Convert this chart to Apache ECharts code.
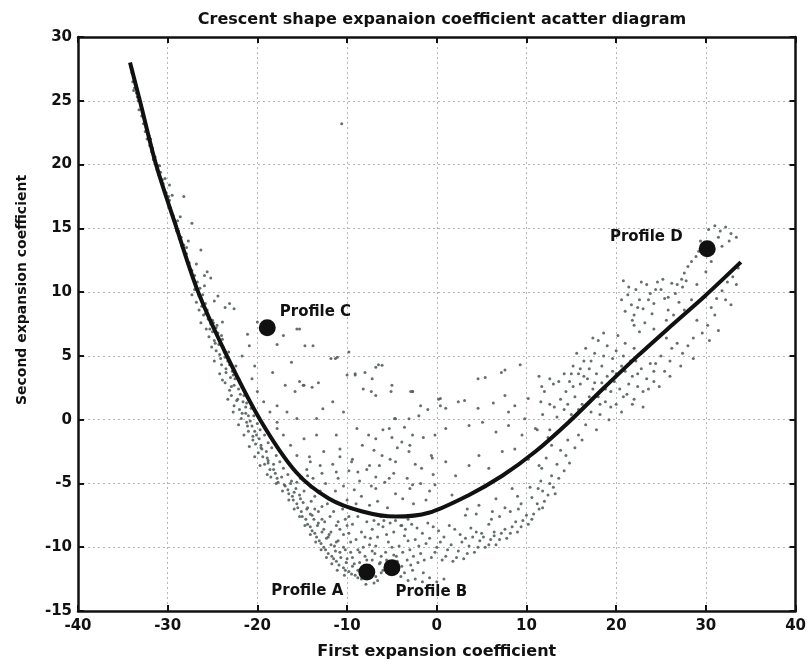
<!DOCTYPE html>
<html>
<head>
<meta charset="utf-8">
<script src="https://cdn.jsdelivr.net/npm/echarts@6/dist/echarts.min.js"></script>
<style>html,body{margin:0;padding:0;background:#fff}#c{width:809px;height:670px}</style>
</head>
<body>
<div id="c"></div>
<script>
// ---- data ----
var xTicks = [-40, -30, -20, -10, 0, 10, 20, 30, 40];
var yTicks = [-15, -10, -5, 0, 5, 10, 15, 20, 25, 30];

var curvePts = [[-34.2,28.0],[-33.1,25.0],[-31.3,20.0],[-29.0,15.0],[-26.6,10.0],[-23.4,5.0],[-19.7,0.0],[-15.7,-4.1],[-12.0,-6.2],[-8.3,-7.2],[-4.6,-7.6],[-0.9,-7.3],[3.6,-5.9],[7.3,-4.4],[11.0,-2.5],[14.7,-0.2],[18.5,2.4],[22.4,5.0],[26.2,7.4],[29.9,9.7],[33.9,12.35]];

var profileNames = ['Profile A', 'Profile B', 'Profile C', 'Profile D'];
var profileX = [-7.8, -5.0, -18.9, 30.15];
var profileY = [-11.95, -11.6, 7.2, 13.4];

var armPts = [[-34.0,27.2],[-33.9,26.5],[-33.8,25.8],[-33.7,26.0],[-33.5,25.6],[-33.3,25.0],[-33.2,24.3],[-32.9,23.8],[-32.8,24.2],[-32.7,23.2],[-32.5,22.6],[-32.3,22.0],[-32.0,21.5],[-31.9,22.0],[-31.8,21.0],[-31.6,20.4],[-31.2,19.6],[-31.0,19.2],[-30.9,19.9],[-30.7,18.6],[-30.6,18.8],[-30.4,18.0],[-30.1,17.4],[-29.9,16.8],[-29.8,18.4],[-29.8,17.2],[-29.6,16.2],[-29.3,15.6],[-29.0,14.8],[-28.9,15.6],[-28.7,14.2],[-28.4,13.6],[-28.2,17.5],[-28.1,13.0],[-27.9,13.5],[-27.8,12.4],[-27.5,11.8],[-27.3,15.4],[-27.2,11.2],[-26.9,10.6],[-26.6,10.0],[-26.3,13.3],[-26.3,9.6],[-26.0,9.0],[-25.9,10.5],[-25.6,11.6],[-25.2,11.1],[-24.8,9.3],[-24.4,9.7],[-23.6,8.8],[-10.6,23.2],
  [-34.1,27.6],[-33.6,26.3],[-33.4,25.3],[-33.0,24.6],[-32.6,23.6],[-32.4,22.9],[-32.1,22.3],[-31.7,21.3],[-31.4,20.6],[-31.1,19.9],[-30.8,19.4],[-30.5,18.5],[-30.2,17.8],[-29.9,17.5],[-29.7,16.6],[-29.4,16.0],[-29.1,15.4],[-28.8,14.8],[-28.5,14.3],[-28.2,13.7],[-27.9,13.0],[-27.6,12.3],[-27.3,11.7],[-27.0,11.3],[-26.7,10.8],[-26.4,10.3],[-26.1,9.8],[-30.3,18.9],[-29.5,17.6],[-28.6,15.9],[-27.7,14.0],[-26.8,12.2],[-25.9,11.3]];

var leftBandPts = [[-27.0,10.2],[-26.5,9.7],[-27.3,9.8],[-26.8,9.2],[-26.2,8.9],[-25.8,9.1],[-26.5,8.6],[-26.0,8.2],[-25.5,7.9],[-26.3,7.6],[-25.2,7.5],[-25.7,7.1],[-25.0,6.9],[-24.6,7.2],[-25.4,6.5],[-24.8,6.2],[-24.3,5.9],[-25.1,5.7],[-23.9,6.3],[-24.6,5.4],[-24.2,5.1],[-23.6,4.9],[-24.8,4.6],[-23.2,5.3],[-24.0,4.3],[-23.5,4.0],[-22.8,3.8],[-24.2,3.6],[-23.0,3.3],[-22.4,4.2],[-23.6,2.9],[-22.6,2.7],[-22.0,3.1],[-23.1,2.3],[-21.7,2.5],[-22.9,1.9],[-22.2,1.6],[-21.5,1.9],[-22.6,1.1],[-21.2,1.3],[-22.0,0.8],[-21.3,0.5],[-20.7,0.9],[-21.8,0.1],[-20.4,0.3],[-21.2,-0.2],[-20.6,-0.5],[-20.0,-0.3],[-21.0,-0.9],[-19.7,-0.8],[-20.5,-1.3],[-19.8,-1.5],[-19.2,-1.2],[-20.2,-1.9],[-18.8,-1.8],[-19.6,-2.2],[-19.0,-2.5],[-18.4,-2.2],[-19.4,-2.9],[-17.9,-2.8],[-18.8,-3.2],[-18.2,-3.5],[-17.5,-3.3],[-18.6,-3.9],[-17.1,-3.8],[-18.0,-4.2],[-17.3,-4.5],[-16.6,-4.3],[-17.7,-4.9],[-16.2,-4.8],[-23.9,3.1],[-23.3,1.6],[-22.7,0.6],[-22.1,-0.4],[-21.5,-1.2],[-20.9,-2.1],[-20.3,-2.9],[-19.7,-3.6],[-18.9,-4.3],
  [-26.2,9.4],[-25.6,8.6],[-25.0,7.8],[-24.4,6.8],[-23.8,5.7],[-23.3,4.6],[-22.7,3.5],[-22.1,2.4],[-21.6,1.4],[-21.0,0.3],[-20.3,-0.9],[-19.6,-2.0],[-18.9,-3.0],[-18.2,-3.9],[-25.3,7.1],[-24.7,6.0],[-24.1,4.8],[-23.5,3.7],[-22.9,2.6],[-22.3,1.5],[-21.7,0.5],[-21.1,-0.5],[-20.5,-1.6],[-19.9,-2.6],[-19.2,-3.5],[-18.5,-4.5],[-24.9,7.6],[-24.0,6.6],[-23.1,4.3],[-22.5,3.2],[-21.9,2.0],[-21.3,1.0],[-20.8,-0.1],[-20.1,-1.2],[-19.5,-2.3],[-18.8,-3.4],[-17.8,-4.6],[-25.8,8.3],[-24.5,7.4],[-23.7,5.3]];

var lowerBandPts = [[-16.9,-5.2],[-16.3,-5.0],[-15.7,-5.4],[-16.5,-5.8],[-15.3,-5.9],[-16.0,-6.3],[-14.9,-6.5],[-15.5,-6.9],[-14.5,-7.0],[-14.1,-7.4],[-15.0,-7.6],[-13.7,-7.8],[-14.4,-8.2],[-13.3,-8.3],[-13.9,-8.7],[-12.8,-8.8],[-13.4,-9.2],[-12.3,-9.3],[-12.9,-9.7],[-11.8,-9.8],[-12.4,-10.2],[-11.3,-10.3],[-11.7,-10.7],[-10.7,-10.8],[-11.2,-11.1],[-10.1,-11.2],[-10.4,-11.6],[-9.4,-11.5],[-9.8,-11.9],[-8.8,-11.8],[-9.1,-12.2],[-8.1,-12.1],[-8.4,-12.5],[-7.4,-12.4],[-6.8,-12.3],[-6.2,-12.0],[-6.6,-12.6],[-17.9,-5.0],[-17.2,-5.6],[-16.5,-6.3],[-15.9,-7.0],[-15.3,-7.6],[-14.7,-8.3],[-14.1,-9.0],[-13.5,-9.6],[-12.9,-10.2],[-12.3,-10.8],[-11.7,-11.3],[-11.1,-11.8],[-10.3,-12.2],[-15.6,-4.9],[-14.8,-5.6],[-14.0,-6.4],[-13.2,-7.2],[-12.5,-8.0],[-11.8,-8.8],[-11.0,-9.5],[-10.2,-10.2],[-9.4,-10.8],[-8.6,-11.2],[-7.6,-11.6],[-13.6,-6.0],[-12.8,-6.8],[-11.9,-7.6],[-11.2,-8.3],[-10.4,-9.0],[-9.6,-9.6],[-8.8,-10.2],[-8.0,-10.7],[-7.2,-11.0],[-6.4,-11.3],[-5.6,-11.0],[-4.8,-10.6],[-15.2,-4.6],[-14.0,-5.3],[-13.0,-5.6],[-12.2,-6.6],[-11.5,-7.2],[-10.5,-7.0],[-9.8,-7.6],[-13.6,-7.0],[-12.8,-7.8],[-11.0,-8.0],[-10.0,-8.3],[-12.0,-9.0],[-11.2,-9.6],[-10.4,-10.0],[-9.6,-10.4],
  [-16.6,-5.5],[-16.1,-6.0],[-15.6,-6.6],[-15.1,-7.2],[-14.6,-7.8],[-14.1,-8.4],[-13.6,-8.9],[-13.1,-9.5],[-12.6,-10.0],[-12.1,-10.5],[-11.5,-10.9],[-10.9,-11.4],[-10.2,-11.8],[-9.5,-12.1],[-8.8,-12.4],[-17.0,-5.1],[-15.9,-5.7],[-15.2,-6.2],[-14.4,-6.9],[-13.9,-7.5],[-13.2,-8.1],[-12.6,-8.6],[-12.1,-9.2],[-11.4,-9.9],[-10.8,-10.4],[-10.0,-10.9],[-9.2,-11.3],[-8.3,-11.6],[-7.9,-12.9],[-7.0,-12.8]];

var innerPts = [[-23.1,9.1],[-22.6,8.7],[-23.9,7.65],[-21.1,6.7],[-20.0,7.65],[-17.1,6.6],[-15.6,7.1],[-13.8,5.8],[-17.8,5.9],[-20.9,5.8],[-21.7,5.0],[-20.3,4.2],[-20.6,3.2],[-18.3,3.7],[-16.9,2.7],[-15.8,2.2],[-14.8,2.7],[-13.9,2.55],[-13.2,2.9],[-16.2,4.5],[-11.8,4.8],[-11.1,4.9],[-10.0,3.5],[-9.1,3.6],[-8.2,2.4],[-20.0,2.2],[-19.3,1.4],[-17.8,1.1],[-18.6,0.6],[-16.7,0.6],[-17.8,-0.2],[-15.6,0.1],[-13.4,0.1],[-12.7,0.85],[-11.6,1.4],[-10.4,0.6],[-8.9,-0.7],[-11.2,-1.2],[-13.4,-1.2],[-14.8,-1.5],[-16.3,-2.0],[-15.6,-2.8],[-14.1,-3.3],[-12.6,-2.5],[-10.8,-2.3],[-9.4,-3.1],[-8.3,-2.0],[-7.5,-3.6],[-14.4,-4.4],[-11.2,-4.1],[-8.8,-4.1],[-17.8,-0.7],[-17.1,-1.2],[-15.3,7.1],[-14.7,5.8],[-11.3,4.8],[-9.8,5.3],[-9.1,3.5],[-8.0,3.7],[-6.5,4.3],[-7.3,2.2],[-5.1,2.2],[-2.9,2.2],[-1.8,1.1],[0.4,1.1],[-4.7,0.1],[-14.9,2.7],[-15.3,3.0],[-14.5,-3.9],[-13.8,-4.6],[-13.0,-3.6],[-12.4,-5.0],[-12.8,-4.2],[-14.2,-2.9],[-11.6,-3.5],[-11.0,-4.6],[-10.4,-5.2],[-9.8,-4.0],[-9.2,-5.5],[-8.6,-4.8],[-10.8,-2.9],[-9.5,-3.3],[-8.4,-6.0],[-11.3,-5.6],[-10.0,-6.3],[-9.0,-6.6],[-7.6,-1.2],[-7.0,-2.4],[-6.4,-3.6],[-5.8,-4.9],[-5.2,-3.1],[-4.6,-5.8],[-7.3,-5.2],[-6.6,-6.4],[-5.5,-6.9],[-4.4,-2.2],[-6.0,-0.8],[-7.8,-3.9],[-4.8,-4.2],[-5.0,-1.4],[-6.8,-4.5],[-7.5,-6.7],[-3.6,-0.6],[-3.0,-2.0],[-2.4,-3.5],[-1.8,-5.0],[-1.2,-6.3],[-0.6,-2.8],[-3.3,-4.6],[-2.6,-6.6],[-1.5,-1.4],[-0.4,-4.3],[-3.8,-6.2],[-2.0,0.3],[-0.8,-5.6],[-3.0,-5.4],[-1.0,0.8]];

var centrePts = [[-6.8,4.1],[-6.1,4.27],[-7.2,3.2],[-5.0,2.7],[-2.7,2.2],[5.4,3.3],[7.6,3.9],[9.3,4.3],[12.6,3.2],[11.7,2.6],[-6.8,1.9],[0.4,1.65],[1.0,0.9],[3.1,1.5],[4.6,0.9],[6.3,1.3],[7.6,1.9],[8.7,1.1],[10.2,1.65],[11.6,1.4],[13.1,1.0],[-4.6,0.07],[-3.1,0.07],[-5.3,-0.7],[-2.7,-1.2],[-6.8,-1.5],[-3.9,-1.75],[-0.2,-1.2],[1.0,-0.7],[3.6,-0.45],[5.1,-0.2],[6.6,-0.96],[8.0,-0.45],[9.5,-1.2],[11.0,-0.7],[12.5,-1.5],[8.0,0.6],[9.8,0.07],[-6.1,-2.8],[-4.6,-3.3],[-3.1,-2.5],[-1.7,-3.8],[-0.5,-3.0],[1.0,-3.3],[2.1,-4.4],[3.6,-3.6],[4.7,-2.8],[5.8,-3.8],[7.3,-2.5],[8.7,-2.3],[10.2,-3.1],[11.7,-3.8],[12.8,-4.4],[11.3,-5.4],[-5.3,-4.6],[-2.7,-5.1],[-6.8,-5.4],[-0.2,-5.1],[1.7,-5.9],[4.7,-6.7],[6.6,-6.2],[8.4,-5.4],[3.2,-7.5],[6.1,-7.8],[9.1,-7.0],[-3.9,-8.3],[-2.7,2.2],[0.2,1.6],[2.4,1.4],[4.6,3.2],[7.2,3.7]];

var bottomPts = [[-7.8,-8.0],[-7.2,-8.6],[-6.6,-9.2],[-6.0,-8.4],[-5.4,-9.6],[-4.8,-8.8],[-4.2,-9.9],[-3.6,-9.1],[-3.0,-10.2],[-2.4,-9.4],[-1.8,-10.5],[-1.2,-9.7],[-0.6,-10.8],[0.0,-10.0],[0.6,-11.0],[1.2,-10.2],[1.8,-11.1],[2.4,-10.3],[3.0,-10.9],[3.6,-9.9],[4.2,-10.4],[4.8,-9.5],[-7.5,-9.8],[-6.9,-10.5],[-6.3,-11.2],[-5.7,-10.4],[-5.1,-11.3],[-4.5,-10.7],[-3.9,-11.5],[-3.3,-11.0],[-2.7,-11.8],[-2.1,-11.2],[-1.5,-12.0],[-7.0,-7.9],[-6.2,-7.6],[-5.2,-8.1],[-4.0,-8.3],[-3.2,-7.8],[-2.2,-8.5],[-1.0,-8.1],[0.2,-8.7],[1.4,-8.3],[2.6,-9.0],[3.8,-8.5],[5.0,-8.9],[-8.4,-8.8],[-9.0,-9.4],[-8.2,-10.0],[-7.8,-11.0],[-9.4,-8.2],[-10.2,-7.8],[-10.8,-8.6],[-9.8,-8.9],[-8.8,-7.6],[-3.2,-12.6],[-2.4,-12.5],[-1.6,-12.7],[-0.8,-12.4],[0.0,-12.7],[0.8,-12.5],[-4.0,-12.3],[5.4,-10.0],[6.0,-9.4],[6.6,-9.8],[7.2,-8.9],[7.8,-9.3],[8.4,-8.4],[9.0,-8.8],[9.6,-7.9],[10.2,-8.2],[10.8,-7.4],[11.4,-7.0],[12.0,-6.4],[5.8,-8.2],[7.0,-7.6],[8.2,-7.2],[9.4,-6.6],[10.6,-6.1],[11.8,-5.6],[12.6,-5.0],[13.2,-5.8],[4.4,-7.4],[3.4,-7.0],[6.4,-8.8],
  [-7.4,-9.3],[-6.8,-9.9],[-6.2,-10.7],[-5.6,-9.0],[-5.0,-10.0],[-4.4,-11.1],[-3.8,-10.4],[-3.2,-9.5],[-2.6,-10.7],[-2.0,-9.9],[-1.4,-11.0],[-0.8,-9.3],[-0.2,-10.4],[0.4,-9.6],[1.0,-10.7],[1.6,-9.8],[2.2,-10.8],[2.8,-9.6],[3.4,-10.5],[4.0,-9.2],[4.6,-10.0],[-6.5,-8.2],[-5.9,-7.9],[-4.6,-7.9],[-3.5,-8.6],[-2.8,-8.2],[-1.6,-8.9],[-0.4,-8.4],[0.8,-9.2],[2.0,-8.6],[3.2,-9.3],[4.4,-8.8],[-8.0,-9.2],[-8.6,-10.4],[-7.2,-10.3],[-6.0,-11.8],[-5.3,-12.1],[-4.6,-11.8],[-3.6,-12.0],[-2.9,-11.4],
  [5.2,-9.2],[5.8,-9.8],[6.4,-9.1],[7.0,-9.4],[7.6,-8.6],[8.2,-8.9],[8.8,-8.0],[9.4,-8.4],[10.0,-7.5],[10.6,-7.8],[11.2,-6.6],[11.8,-6.9],[12.4,-5.9],[13.0,-5.3],[13.6,-4.6],[14.2,-4.0],[14.8,-3.4],[6.2,-7.2],[7.6,-6.9],[9.0,-6.0],[10.4,-5.3],[11.6,-4.8],[13.4,-3.5],[14.4,-2.8],[15.4,-2.2],[16.2,-1.6]];

var rightArmPts = [[30.3,14.9],[31.0,15.2],[31.6,14.8],[32.2,15.1],[32.8,14.6],[33.4,14.3],[31.4,14.3],[32.6,14.0],[29.4,14.0],[27.6,11.5],[28.0,12.0],[28.4,12.4],[28.9,12.8],[29.2,13.2],[27.3,11.0],[20.8,10.9],[21.3,9.8],[21.7,9.0],[22.2,10.2],[22.6,9.4],[23.0,8.7],[23.4,10.6],[23.8,9.9],[24.2,9.1],[24.6,10.8],[25.0,10.2],[25.4,9.5],[25.8,8.6],[26.2,10.7],[26.6,9.9],[27.0,9.2],[27.4,10.4],[25.2,11.0],[24.0,8.3],[22.0,8.2],[21.0,8.5],[23.2,7.6],[22.6,6.9],[25.6,7.8],[26.4,8.2],[27.8,10.9],[20.6,9.4],[20.2,6.6],[22.0,7.4],[24.2,7.1],[33.6,11.9],[33.0,11.2],[32.4,10.8],[31.8,10.1],[31.2,9.5],[30.6,8.8],[33.4,10.6],[32.2,9.4],[31.0,8.2],[30.2,7.4],[29.6,6.8],[32.8,9.0],[29.0,7.8],[30.4,6.2],[31.4,7.0],[28.6,6.4],[25.6,6.4],[26.2,5.6],[26.8,6.0],[27.4,5.2],[28.0,5.8],[28.6,4.8],[26.0,4.6],[27.2,4.2],[25.0,5.0],[24.4,4.4],[15.2,4.2],[15.8,3.6],[16.4,4.6],[16.0,2.8],[16.8,3.2],[17.4,2.4],[17.0,4.0],[17.8,3.6],[18.4,2.9],[18.0,1.8],[18.8,1.4],[19.4,2.2],[19.0,3.4],[19.8,3.0],[20.4,2.4],[20.0,1.2],[20.8,1.8],[21.4,2.8],[21.0,3.8],[21.8,3.4],[22.4,2.6],[22.0,1.6],[22.8,4.0],[23.4,3.2],[23.0,2.2],[23.8,4.4],[24.2,3.0],[21.6,4.6],[20.6,4.2],[19.6,4.8],[18.6,5.0],[17.6,5.2],[16.6,5.6],[15.6,5.2],[14.8,3.0],[15.4,1.8],[16.2,1.2],[17.2,0.6],[18.2,0.4],[19.2,0.0],[14.4,2.2],[13.8,1.6],[14.2,0.8],[13.4,0.2],[15.0,0.4],[16.6,-0.4],[17.8,-0.8],[15.8,-1.2],[14.6,-1.6],[13.8,-2.4],[12.8,-2.0],[12.2,-3.0],[11.4,-3.6],[12.6,-0.8],[11.4,3.4],[12.0,2.2],[12.6,1.2],[11.8,0.4],[13.0,2.8],[11.2,-0.8],[12.4,-1.4],[18.0,6.2],[19.0,5.8],[20.0,5.4],[21.0,6.0],[22.0,5.6],[18.6,6.8],[17.4,6.4],
  [14.6,1.2],[15.2,2.6],[15.8,0.8],[16.4,3.4],[17.0,1.8],[17.6,2.9],[18.2,1.2],[18.8,2.4],[19.4,1.0],[20.0,3.6],[20.6,0.6],[21.2,2.0],[21.8,1.2],[22.4,3.6],[23.0,1.0],[23.6,2.4],[24.2,3.8],[24.8,2.6],[25.4,3.8],[26.0,3.4],[16.0,4.0],[17.2,4.6],[18.4,4.2],[19.6,3.8],[20.8,5.0],[22.2,4.6],[23.4,5.6],[15.0,3.6],[14.2,3.6],[13.6,3.0],
  [21.4,10.4],[22.8,10.8],[24.4,10.2],[25.8,9.6],[26.8,10.6],[23.6,9.4],[22.4,8.8],[21.8,7.8],[27.6,8.6],[28.4,9.4],[29.0,10.6],[30.0,11.6],[30.6,12.4],[31.8,13.6]];

// ---- chart ----
var FONT = 'DejaVu Sans';
var scatterData = [].concat(armPts, leftBandPts, lowerBandPts, innerPts, centrePts, bottomPts, rightArmPts);
var profileData = profileNames.map(function (n, i) { return { name: n, value: [profileX[i], profileY[i]] }; });
var labelPos = {
  'Profile A': { position: 'left', offset: [-10, 19] },
  'Profile B': { position: 'right', offset: [-10, 24] },
  'Profile C': { position: 'right', offset: [-1, -16] },
  'Profile D': { position: 'left', offset: [-11, -12] }
};
profileData.forEach(function (d) {
  d.label = { show: true, position: labelPos[d.name].position, offset: labelPos[d.name].offset, formatter: d.name };
});

var gridLine = { show: true, lineStyle: { color: '#b5b5b5', width: 1, type: [2, 3] } };
var frameLine = { show: true, onZero: false, lineStyle: { color: '#111', width: 2.5 } };
var tickIn = { show: true, inside: true, length: 6, lineStyle: { color: '#111', width: 2 } };
var tickLabel = { fontFamily: FONT, fontWeight: 'bold', fontSize: 15, color: '#111' };

var chart = echarts.init(document.getElementById('c'), null, { renderer: 'canvas' });
chart.setOption({
  animation: false,
  backgroundColor: '#fff',
  title: {
    text: 'Crescent shape expanaion coefficient acatter diagram',
    left: 437, top: 7, textAlign: 'center',
    textStyle: { fontFamily: FONT, fontWeight: 'bold', fontSize: 16, color: '#111' }
  },
  grid: { left: 78, right: 12, top: 37, bottom: 59, containLabel: false },
  xAxis: [{
    type: 'value', min: xTicks[0], max: xTicks[xTicks.length - 1], interval: 10, position: 'bottom',
    axisLine: frameLine, axisTick: tickIn, splitLine: gridLine,
    axisLabel: Object.assign({ margin: 8 }, tickLabel),
    name: 'First expansion coefficient', nameLocation: 'middle', nameGap: 33,
    nameTextStyle: { fontFamily: FONT, fontWeight: 'bold', fontSize: 16, color: '#111' }
  }, {
    type: 'value', min: xTicks[0], max: xTicks[xTicks.length - 1], interval: 10, position: 'top',
    axisLine: frameLine, axisTick: tickIn, splitLine: { show: false }, axisLabel: { show: false }
  }],
  yAxis: [{
    type: 'value', min: yTicks[0], max: yTicks[yTicks.length - 1], interval: 5, position: 'left',
    axisLine: frameLine, axisTick: tickIn, splitLine: gridLine,
    axisLabel: Object.assign({ margin: 6 }, tickLabel)
  }, {
    type: 'value', min: yTicks[0], max: yTicks[yTicks.length - 1], interval: 5, position: 'right',
    axisLine: frameLine, axisTick: tickIn, splitLine: { show: false }, axisLabel: { show: false }
  }],
  graphic: [{
    type: 'text', x: 22, y: 290, rotation: Math.PI / 2,
    style: { text: 'Second expansion coefficient', fontFamily: FONT, fontWeight: 'bold', fontSize: 14, fill: '#111', align: 'center', verticalAlign: 'middle' }
  }],
  series: [{
    type: 'scatter', xAxisIndex: 0, yAxisIndex: 0, data: scatterData,
    symbol: 'circle', symbolSize: 3, itemStyle: { color: '#52625a', opacity: 0.9 }, silent: true
  }, {
    type: 'line', xAxisIndex: 0, yAxisIndex: 0, data: curvePts, smooth: 0.3, showSymbol: false,
    lineStyle: { color: '#111', width: 4 }, silent: true
  }, {
    type: 'scatter', xAxisIndex: 0, yAxisIndex: 0, data: profileData,
    symbol: 'circle', symbolSize: 17, itemStyle: { color: '#111', opacity: 1 },
    label: { show: true, fontFamily: FONT, fontWeight: 'bold', fontSize: 15, color: '#111' }
  }]
});
</script>
</body>
</html>
